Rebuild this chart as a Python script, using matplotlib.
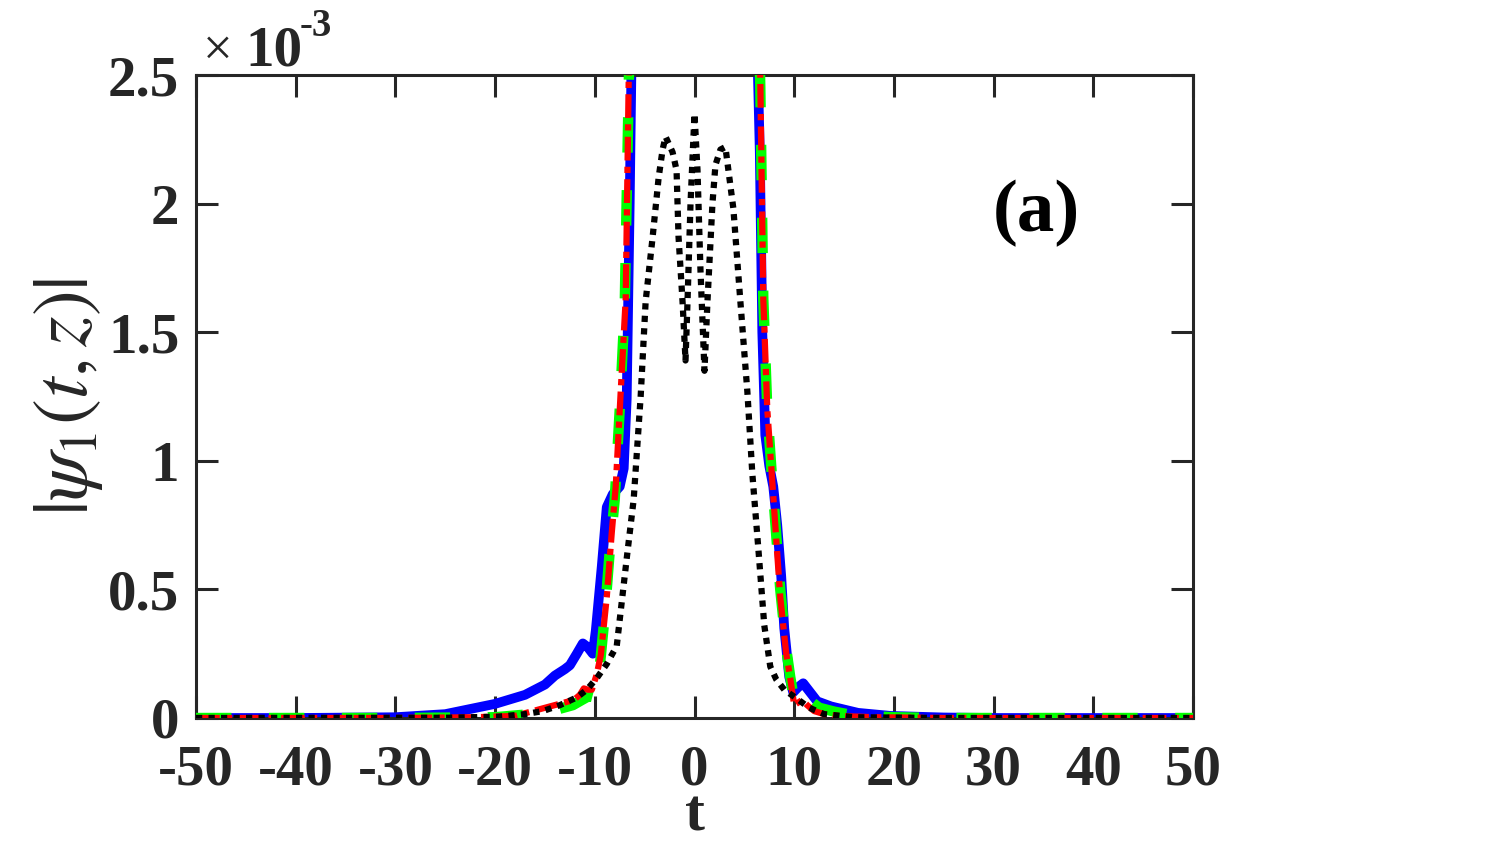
import matplotlib
matplotlib.use("Agg")
import matplotlib.pyplot as plt
import numpy as np

plt.rcParams['font.family'] = ['Liberation Serif', 'DejaVu Serif']
plt.rcParams['mathtext.fontset'] = 'stix'
plt.rcParams['axes.unicode_minus'] = False

# ---- data (t, |psi_1| in units of 1e-3) ----
blue_t = [-50, -40, -30, -25, -20, -17, -15, -14, -13, -12.5, -11.8, -11.2, -10.7, -10.2, -9.9,
          -9.3, -8.8, -8.2, -7.5, -7.1, -6.8, -6.5, -6.3, -5.8, 0, 5.8, 6.3, 6.55, 6.8, 7.1, 7.5,
          7.9, 8.3, 8.7, 9.0, 9.5, 9.9, 10.4, 10.9, 11.4, 12.3, 13.7, 16.4, 19.7, 25, 30, 40, 50]
blue_v = [0, 0, 0.003, 0.015, 0.055, 0.09, 0.13, 0.165, 0.19, 0.205, 0.25, 0.29, 0.275, 0.25, 0.34,
          0.59, 0.82, 0.87, 0.9, 0.97, 1.24, 2.0, 2.6, 4.0, 6.0, 4.0, 2.6, 2.2, 1.5, 1.1, 0.98,
          0.9, 0.75, 0.55, 0.35, 0.16, 0.10, 0.12, 0.135, 0.11, 0.065, 0.045, 0.02, 0.008, 0.002, 0, 0, 0]

green_t = [-50, -30, -20, -15, -12.2, -11.3, -10.6, -10.1, -9.8, -9.5, -9.0, -8.5, -8.0, -7.5, -7.0,
           -6.6, -6.3, -5.8, 0, 5.8, 6.3, 6.6, 6.9, 7.3, 7.8, 8.6, 9.2, 9.6, 10.0, 10.4, 10.8, 11.5,
           12.5, 14, 16, 20, 25, 50]
green_v = [0, 0, 0.003, 0.02, 0.05, 0.07, 0.085, 0.08, 0.15, 0.2, 0.4, 0.65, 0.85, 1.2, 1.6,
           2.45, 3.0, 4.0, 6.0, 4.0, 3.0, 2.45, 1.63, 1.2, 0.92, 0.5, 0.27, 0.16, 0.07, 0.09, 0.1, 0.07,
           0.04, 0.025, 0.01, 0.003, 0, 0]

red_t = [-50, -30, -22, -18, -14.5, -12.1, -11.5, -11.1, -10.7, -10.3, -9.8, -9.4, -8.8, -8.3, -7.9,
         -7.4, -6.9, -6.6, -6.3, -5.8, 0, 5.8, 6.3, 6.6, 6.9, 7.3, 7.8, 8.6, 9.2, 9.6, 10.0, 10.4,
         10.8, 11.3, 12, 13, 14.5, 18, 25, 50]
red_v = [0, 0, 0.003, 0.008, 0.045, 0.07, 0.09, 0.115, 0.11, 0.11, 0.17, 0.245, 0.47, 0.72, 0.9,
         1.27, 1.63, 2.48, 3.0, 4.0, 6.0, 4.0, 3.0, 2.48, 1.63, 1.2, 0.92, 0.47, 0.25, 0.155, 0.05, 0.06,
         0.07, 0.05, 0.027, 0.015, 0.008, 0.003, 0, 0]

black_t = [-50, -25, -19.7, -17, -15.2, -13.5, -11.8, -10.8, -9.8, -8.8, -7.8, -6.8, -6.1, -5.4,
           -4.9, -4.2, -3.6, -3.2, -2.9, -2.2, -1.8, -1.6, -1.2, -0.9, -0.7, -0.4, 0, 0.3, 0.6, 1.0,
           1.3, 1.8, 2.1, 2.6, 3.1, 3.9, 4.6, 5.3, 5.8, 6.4, 7.0, 7.6, 8.2, 9.0, 10.1, 11.5, 13,
           16, 25, 50]
black_v = [0, 0.001, 0.005, 0.015, 0.027, 0.05, 0.08, 0.11, 0.155, 0.21, 0.28, 0.62, 0.85, 1.25,
           1.62, 1.87, 2.1, 2.21, 2.26, 2.2, 2.13, 1.87, 1.62, 1.39, 1.62, 2.0, 2.35, 2.13, 1.74, 1.35,
           1.62, 2.0, 2.15, 2.21, 2.22, 1.98, 1.62, 1.27, 0.95, 0.66, 0.36, 0.2, 0.15, 0.11, 0.08, 0.04,
           0.015, 0.003, 0, 0]

xticks = [-50, -40, -30, -20, -10, 0, 10, 20, 30, 40, 50]
yticks = [0, 0.5, 1, 1.5, 2, 2.5]
ytick_labels = ['0', '0.5', '1', '1.5', '2', '2.5']

fig = plt.figure(figsize=(15.11, 8.42), dpi=100)
ax = fig.add_axes([196 / 1511, 1 - 718 / 842, (1193 - 196) / 1511, (718 - 75) / 842])

sc = 1e-3
ax.plot(np.array(blue_t), np.array(blue_v) * sc, color='#0000ff', lw=7,
        solid_capstyle='round', solid_joinstyle='round', zorder=2)
ax.plot(np.array(green_t), np.array(green_v) * sc, color='#00ff00', lw=7.5,
        linestyle=(0, (3.4, 3.6)), dash_capstyle='butt', zorder=3)
ax.plot(np.array(red_t), np.array(red_v) * sc, color='#ff0000', lw=4.5,
        linestyle=(0, (3.8, 1.0, 1.0, 1.0)), dash_capstyle='butt', zorder=4)
ax.plot(np.array(black_t), np.array(black_v) * sc, color='#000000', lw=4.5,
        linestyle=(0, (1, 1)), dash_capstyle='butt', zorder=5)

ax.set_xlim(-50, 50)
ax.set_ylim(0, 2.5e-3)
ax.set_xticks(xticks)
ax.set_xticklabels([str(v) for v in xticks])
ax.set_yticks([v * sc for v in yticks])
ax.set_yticklabels(ytick_labels)

spine_col = '#262626'
for s in ax.spines.values():
    s.set_linewidth(2.2)
    s.set_color(spine_col)
ax.tick_params(direction='in', length=16, width=2.2, color=spine_col,
               top=True, right=True, labelsize=41, labelcolor=spine_col)
ax.tick_params(axis='x', pad=19)
ax.tick_params(axis='y', pad=12)
for lab in ax.get_xticklabels() + ax.get_yticklabels():
    lab.set_fontweight('bold')

ax.set_xlabel('t', fontsize=43, fontweight='bold', color=spine_col, labelpad=-5)
ax.set_ylabel(r'$|\psi_1(t,z)|$', fontsize=56, color=spine_col, labelpad=2)

ax.text(0.843, 0.785, '(a)', transform=ax.transAxes, fontsize=54, fontweight='bold',
        ha='center', va='center', color='black')

# exponent label
fig.text(203 / 1511, 1 - 65 / 842, '\u00d7', fontsize=38, ha='left', va='baseline', color=spine_col)
fig.text(245 / 1511, 1 - 65 / 842, '10', fontsize=41, fontweight='bold', ha='left', va='baseline',
         color=spine_col)
fig.text(300 / 1511, 1 - 36 / 842, '-3', fontsize=28, fontweight='bold', ha='left', va='baseline',
         color=spine_col)

fig.savefig('out.png', dpi=100)
